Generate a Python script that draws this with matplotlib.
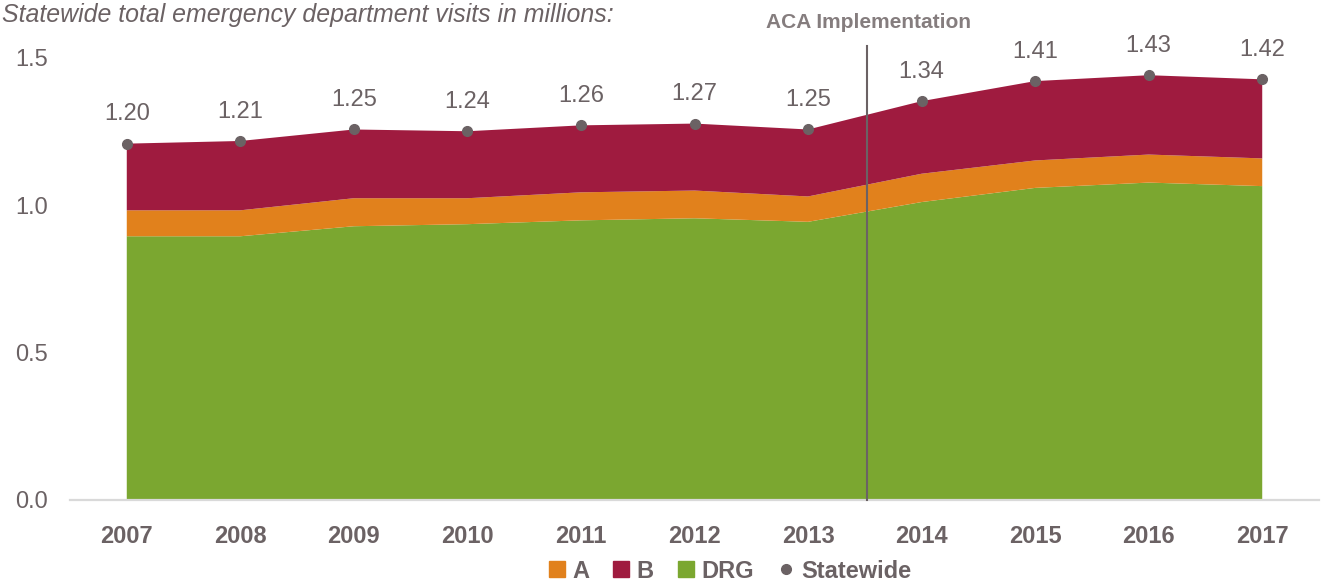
import matplotlib
matplotlib.use("Agg")
import matplotlib.pyplot as plt
from matplotlib import font_manager
from matplotlib.lines import Line2D
import numpy as np

# ---- data (millions of ED visits) ----
years = [2007, 2008, 2009, 2010, 2011, 2012, 2013, 2014, 2015, 2016, 2017]
drg = [0.894, 0.894, 0.928, 0.935, 0.948, 0.955, 0.943, 1.010, 1.058, 1.076, 1.064]
a_vals = [0.088, 0.088, 0.095, 0.088, 0.095, 0.094, 0.086, 0.096, 0.093, 0.095, 0.094]
b_vals = [0.226, 0.235, 0.233, 0.227, 0.227, 0.227, 0.227, 0.246, 0.269, 0.269, 0.268]
statewide = [1.208, 1.217, 1.256, 1.250, 1.270, 1.276, 1.256, 1.352, 1.420, 1.440, 1.426]
statewide_labels = ["1.20", "1.21", "1.25", "1.24", "1.26", "1.27", "1.25", "1.34", "1.41", "1.43", "1.42"]
yticks = [0.0, 0.5, 1.0, 1.5]
aca_year = 2013.52

GREEN = "#7ba730"
ORANGE = "#e1811c"
CRIMSON = "#9f1b3f"
GRAY = "#6b6264"

names = {f.name for f in font_manager.fontManager.ttflist}
BASE = "Liberation Sans" if "Liberation Sans" in names else "DejaVu Sans"
NARROW = "Liberation Sans Narrow" if "Liberation Sans Narrow" in names else None
plt.rcParams["font.family"] = [BASE, "DejaVu Sans"]

W, H = 1324, 581
fig = plt.figure(figsize=(W / 100, H / 100), dpi=100)
left_px, right_px, bottom_px, top_px = 70, 1319, 500, 30
ax = fig.add_axes([left_px / W, 1 - bottom_px / H, (right_px - left_px) / W, (bottom_px - top_px) / H])

ax.stackplot(years, drg, a_vals, b_vals, colors=[GREEN, ORANGE, CRIMSON], linewidth=0)
ax.plot(years, statewide, "o", color=GRAY, markersize=7, zorder=5, clip_on=False)

for x, y, lab in zip(years, statewide, statewide_labels):
    ax.annotate(lab, (x, y), xytext=(0, 21), textcoords="offset points",
                ha="center", va="center", fontsize=17, color=GRAY)

ax.set_xlim(2006.5, 2017.5)
ax.set_ylim(0, (bottom_px - top_px) / 295.0)
ax.set_xticks(years)
ax.set_xticklabels([str(y) for y in years], fontsize=17, fontweight="bold", color=GRAY)
ax.set_yticks(yticks)
ax.set_yticklabels([f"{v:.1f}" for v in yticks], fontsize=17, color=GRAY)
ax.tick_params(axis="x", length=0, pad=18)
ax.tick_params(axis="y", length=0, pad=16)
for s in ["top", "right", "left"]:
    ax.spines[s].set_visible(False)
ax.spines["bottom"].set_color("#d9d9d9")
ax.spines["bottom"].set_linewidth(1.6)

# ACA implementation line
ax.plot([aca_year, aca_year], [0, 1.539], color=GRAY, linewidth=1.5, zorder=6, clip_on=False)
if NARROW:
    fig.text(868 / W, 1 - 23 / H, "ACA Implementation", family=[NARROW, "DejaVu Sans"],
             fontweight="bold", fontsize=18, color="#857d7e", ha="center", va="center")
else:
    fig.text(868 / W, 1 - 23 / H, "ACA Implementation",
             fontweight="bold", fontsize=15, color="#857d7e", ha="center", va="center")

# title
fig.text(2 / W, 1 - 15 / H, "Statewide total emergency department visits in millions:",
         fontsize=17.9, style="italic", color=GRAY, ha="left", va="center")

# legend
handles = [
    Line2D([], [], marker="s", linestyle="none", markersize=11, color=ORANGE),
    Line2D([], [], marker="s", linestyle="none", markersize=11, color=CRIMSON),
    Line2D([], [], marker="s", linestyle="none", markersize=11, color=GREEN),
    Line2D([], [], marker="o", linestyle="none", markersize=7, color=GRAY),
]
leg = fig.legend(handles, ["A", "B", "DRG", "Statewide"], loc="center",
                 bbox_to_anchor=(730 / W, 1 - 571 / H), ncol=4, frameon=False,
                 prop={"size": 17, "weight": "bold"}, handlelength=0.7,
                 handletextpad=0.3, columnspacing=1.0, borderpad=0)
for t in leg.get_texts():
    t.set_color(GRAY)

fig.savefig("out.png", dpi=100)
